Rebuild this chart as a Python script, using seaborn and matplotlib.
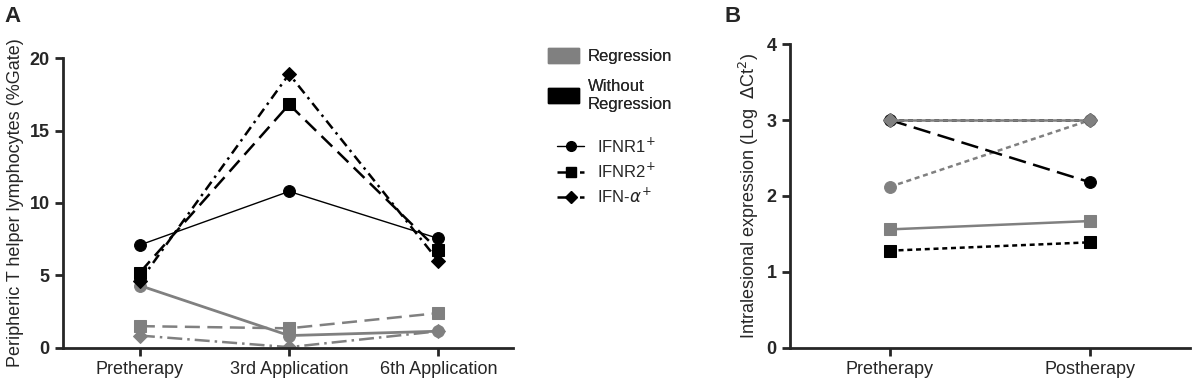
import pandas as pd
import seaborn as sns
from matplotlib import pyplot as plt
from matplotlib.patches import Patch
from matplotlib.lines import Line2D

sns.set_style("ticks")
plt.rcParams['font.family'] = ['Liberation Sans', 'DejaVu Sans']

# Dados - painel A
stages_a = ['Pretherapy', '3rd Application', '6th Application']
reg_ifnr1_a = [4.3, 0.85, 1.15]
reg_ifnr2_a = [1.5, 1.35, 2.4]
reg_ifna_a = [0.85, 0.05, 1.15]
wo_ifnr1_a = [7.1, 10.8, 7.55]
wo_ifnr2_a = [5.2, 16.8, 6.75]
wo_ifna_a = [4.6, 18.9, 6.0]

# Dados - painel B
stages_b = ['Pretherapy', 'Postherapy']
reg_ifnr1_b = [2.12, 3.0]
reg_ifnr2_b = [1.56, 1.67]
reg_ifna_b = [3.0, 3.0]
wo_ifnr1_b = [3.0, 2.18]
wo_ifnr2_b = [1.28, 1.39]
wo_ifna_b = [3.0, 3.0]

GRAY = '#808080'
BLACK = '#000000'

fig = plt.figure(figsize=(12, 3.9), dpi=100)
axA = fig.add_axes([0.0525, 0.108, 0.375, 0.743])
axB = fig.add_axes([0.658, 0.108, 0.334, 0.779])


def serie(ax, x, y, color, marker, ls, lw=1.8):
    df = pd.DataFrame({'x': x, 'y': y})
    sns.lineplot(data=df, x='x', y='y', ax=ax, color=color, marker=marker,
                 markersize=8.5 if marker != 'D' else 7.5, markeredgecolor=color,
                 linestyle=ls, linewidth=lw, sort=False)


# Painel A
serie(axA, stages_a, reg_ifnr1_a, GRAY, 'o', '-', 2)
serie(axA, stages_a, reg_ifnr2_a, GRAY, 's', (0, (6, 3)))
serie(axA, stages_a, reg_ifna_a, GRAY, 'D', (0, (6, 2, 1, 2)))
serie(axA, stages_a, wo_ifnr1_a, BLACK, 'o', '-', 1)
serie(axA, stages_a, wo_ifnr2_a, BLACK, 's', (0, (6, 3)))
serie(axA, stages_a, wo_ifna_a, BLACK, 'D', (0, (4, 2, 1, 2)))
axA.set_ylim(0, 20)
axA.set_yticks([0, 5, 10, 15, 20])
axA.set_xlim(-0.515, 2.5)
axA.set_ylabel('Peripheric T helper lymphocytes (%Gate)', fontsize=13)

# Painel B
serie(axB, stages_b, reg_ifnr1_b, GRAY, 'o', (0, (2, 1.5)))
serie(axB, stages_b, reg_ifnr2_b, GRAY, 's', '-')
serie(axB, stages_b, wo_ifnr1_b, BLACK, 'o', (0, (7, 3)))
serie(axB, stages_b, wo_ifnr2_b, BLACK, 's', (0, (2, 1.5)))
serie(axB, stages_b, wo_ifna_b, BLACK, 'D', (0, (2, 1.5)))
serie(axB, stages_b, reg_ifna_b, GRAY, 'D', '-')
axB.set_ylim(0, 4)
axB.set_yticks([0, 1, 2, 3, 4])
axB.set_xlim(-0.5, 1.5)
axB.set_ylabel(r'Intralesional expression (Log  $\Delta$Ct$^2$)', fontsize=13)

for ax in (axA, axB):
    sns.despine(ax=ax)
    ax.set_xlabel('')
    for s in ('left', 'bottom'):
        ax.spines[s].set_linewidth(2)
    ax.tick_params(width=2, length=6, labelsize=13)
    for t in ax.get_yticklabels():
        t.set_fontweight('bold')

# Legendas
leg1 = fig.legend(handles=[Patch(color=GRAY), Patch(color=BLACK)],
                  labels=['Regression', 'Without\nRegression'],
                  loc='upper left', bbox_to_anchor=(0.444, 0.915), frameon=False,
                  fontsize=12, handlelength=1.9, handleheight=1.0,
                  labelspacing=0.9, handletextpad=0.5)
linhas = [Line2D([], [], color=BLACK, marker='o', linestyle='-', lw=1, markersize=7),
          Line2D([], [], color=BLACK, marker='s', linestyle=(0, (6, 3)), lw=1.8, markersize=7),
          Line2D([], [], color=BLACK, marker='D', linestyle=(0, (4, 2, 1, 2)), lw=1.8, markersize=6)]
fig.legend(handles=linhas, labels=['IFNR1$^{+}$', 'IFNR2$^{+}$', r'IFN-$\alpha^{+}$'],
           loc='upper left', bbox_to_anchor=(0.452, 0.69), frameon=False,
           fontsize=12, handlelength=1.6, labelspacing=0.35, handletextpad=0.8)
fig.add_artist(leg1)

fig.text(0.004, 0.985, 'A', fontsize=16, fontweight='bold', va='top')
fig.text(0.604, 0.985, 'B', fontsize=16, fontweight='bold', va='top')

plt.savefig('out.png', dpi=100)
